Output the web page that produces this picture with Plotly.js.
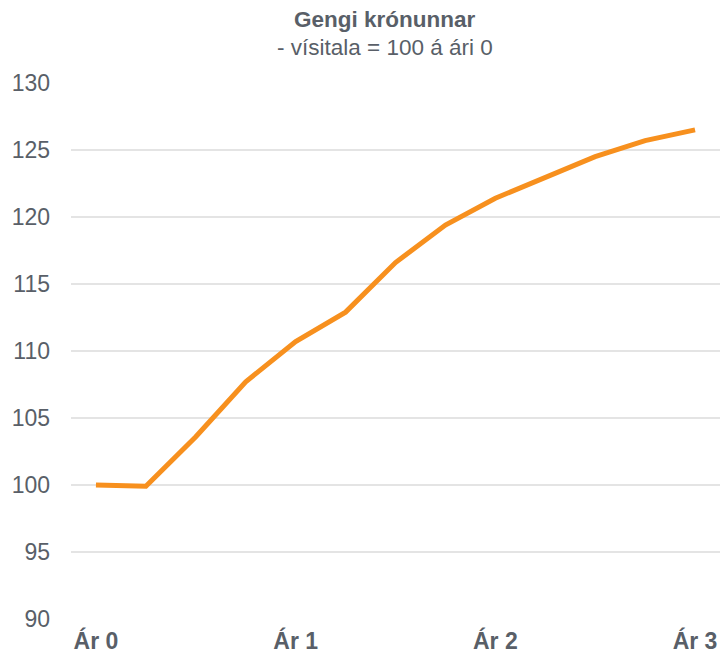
<!DOCTYPE html>
<html>
<head>
<meta charset="utf-8">
<script src="https://cdn.plot.ly/plotly-3.0.1.min.js"></script>
<style>html,body{margin:0;padding:0;background:#fff;}#chart{width:720px;height:659px;}</style>
</head>
<body>
<div id="chart"></div>
<script>
const quarters = [0,1,2,3,4,5,6,7,8,9,10,11,12];
const gengi = [100.0, 99.9, 103.6, 107.7, 110.7, 112.9, 116.6, 119.4, 121.4, 122.9, 124.5, 125.7, 126.5];
const tickPos = [0,4,8,12];
const tickLabels = ['Ár 0','Ár 1','Ár 2','Ár 3'];
const yTicks = [90,95,100,105,110,115,120,125,130];
const titleText = 'Gengi krónunnar';
const subtitleText = '- vísitala = 100 á ári 0';

const textColor = '#595f68';
const font = 'Arial, "Liberation Sans", sans-serif';

Plotly.newPlot('chart', [{
  x: quarters, y: gengi, type: 'scatter', mode: 'lines',
  line: {color: '#f7901e', width: 5}, hoverinfo: 'skip'
}], {
  width: 720, height: 659,
  margin: {l: 71, r: 0, t: 83, b: 40},
  paper_bgcolor: '#fff', plot_bgcolor: '#fff',
  showlegend: false,
  font: {family: font, color: textColor},
  xaxis: {
    range: [-0.5, 12.5], tickvals: tickPos, ticktext: tickLabels.map(t => '<b>' + t + '</b>'),
    showgrid: false, zeroline: false, showline: false, ticks: '', ticklabelstandoff: 6,
    tickfont: {size: 23, color: textColor, family: font}
  },
  yaxis: {
    range: [90, 130], tickvals: yTicks, showgrid: true, gridcolor: '#e4e4e4', gridwidth: 2,
    zeroline: false, showline: false, ticks: '', ticklabelstandoff: 20,
    tickfont: {size: 23, color: textColor, family: font}
  },
  annotations: [
    {text: '<b>' + titleText + '</b>', xref: 'paper', yref: 'paper', x: 0.4835, y: 1, yshift: 64, showarrow: false, font: {size: 22.5, color: textColor, family: font}, xanchor: 'center', yanchor: 'middle'},
    {text: subtitleText, xref: 'paper', yref: 'paper', x: 0.4835, y: 1, yshift: 36, showarrow: false, font: {size: 22.5, color: textColor, family: font}, xanchor: 'center', yanchor: 'middle'}
  ]
}, {displayModeBar: false, staticPlot: true});
</script>
</body>
</html>
